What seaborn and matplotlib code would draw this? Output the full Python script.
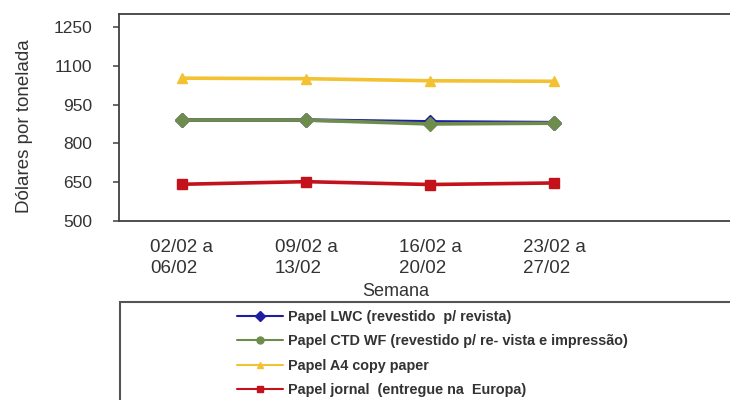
import matplotlib
matplotlib.use("Agg")
import matplotlib.pyplot as plt
from matplotlib.lines import Line2D
from matplotlib.patches import Rectangle
import numpy as np
import pandas as pd
import seaborn as sns

# Weekly paper prices (US$ per tonne)
semanas = ["02/02 a\n06/02", "09/02 a\n13/02", "16/02 a\n20/02", "23/02 a\n27/02"]
series = [
    "Papel LWC (revestido  p/ revista)",
    "Papel CTD WF (revestido p/ re- vista e impressão)",
    "Papel A4 copy paper",
    "Papel jornal  (entregue na  Europa)",
]
papel_lwc = [890, 890, 883, 880]
papel_ctd_wf = [890, 890, 875, 878]
papel_a4 = [1052, 1050, 1042, 1040]
papel_jornal = [642, 652, 641, 647]

yticks = [500, 650, 800, 950, 1100, 1250]

cores = ["#1E1EA0", "#6E8C4C", "#F3C232", "#C3121C"]
marcadores_grafico = ["D", "D", "^", "s"]
marcadores_legenda = ["D", "o", "^", "s"]

sns.set_theme(style="white")
plt.rcParams["font.family"] = ["Liberation Sans", "DejaVu Sans"]
plt.rcParams["text.color"] = "#333333"

valores = [papel_lwc, papel_ctd_wf, papel_a4, papel_jornal]
df = pd.DataFrame({
    "pos": np.tile(np.arange(len(semanas)), len(series)),
    "valor": np.concatenate(valores),
    "serie": np.repeat(series, len(semanas)),
})

fig = plt.figure(figsize=(7.3, 4.0), dpi=100)
W, H = 730, 400
ax = fig.add_axes([119 / W, 1 - 221 / H, (740 - 119) / W, (221 - 14) / H])

sns.lineplot(
    data=df, x="pos", y="valor", hue="serie", style="serie",
    hue_order=series, style_order=series,
    palette=dict(zip(series, cores)),
    markers=dict(zip(series, marcadores_grafico)),
    dashes=False, sort=False, legend=False, ax=ax,
    linewidth=2.6, markersize=7.5,
)
for ln, c in zip(ax.lines, cores):
    ln.set_markeredgecolor(c)
    ln.set_markerfacecolor(c)
    ln.set_markeredgewidth(1.0)

# axis ranges: half a category before the first week, open to the right
ax.set_xlim(-0.508, (740 - 182) / 124)
ax.set_ylim(500, 1300)
ax.set_yticks(yticks)
ax.set_yticklabels([str(v) for v in yticks])
ax.set_xticks(range(len(semanas)))
ax.set_xticklabels(semanas, ha="center", multialignment="left", linespacing=1.3)

ax.tick_params(axis="y", direction="out", length=4, width=1.1, color="#404040",
               pad=15, labelsize=12.5, labelcolor="#333333", left=True)
ax.tick_params(axis="x", length=0, pad=13, labelsize=13.5, labelcolor="#333333")

for side in ["left", "bottom", "top"]:
    ax.spines[side].set_color("#404040")
    ax.spines[side].set_linewidth(1.3)
ax.spines["right"].set_visible(False)

ax.set_xlabel("")
ax.set_ylabel("")
fig.text(25 / W, 1 - 126 / H, "Dólares por tonelada", rotation=90,
         ha="center", va="center", fontsize=13.5, color="#333333")
fig.text(396 / W, 1 - 291 / H, "Semana", ha="center", va="center",
         fontsize=13, color="#333333")

# legend box below the chart
fig.patches.append(Rectangle((120 / W, -0.05), 1.0, 1 - 302 / H + 0.05,
                             transform=fig.transFigure, fill=False,
                             edgecolor="#555555", linewidth=1.5))

handles = [
    Line2D([0], [0], color=c, marker=m, markersize=5, linewidth=1.5,
           markerfacecolor=c, markeredgecolor=c)
    for c, m in zip(cores, marcadores_legenda)
]
fig.legend(handles, series, loc="upper left",
           bbox_to_anchor=(237 / W, 1 - 310 / H), frameon=False,
           handlelength=3.15, handletextpad=0.35,
           labelspacing=0.72, borderpad=0, borderaxespad=0,
           prop={"family": ["Liberation Sans"], "weight": "bold", "size": 10.4})

fig.savefig("out.png", dpi=100)
